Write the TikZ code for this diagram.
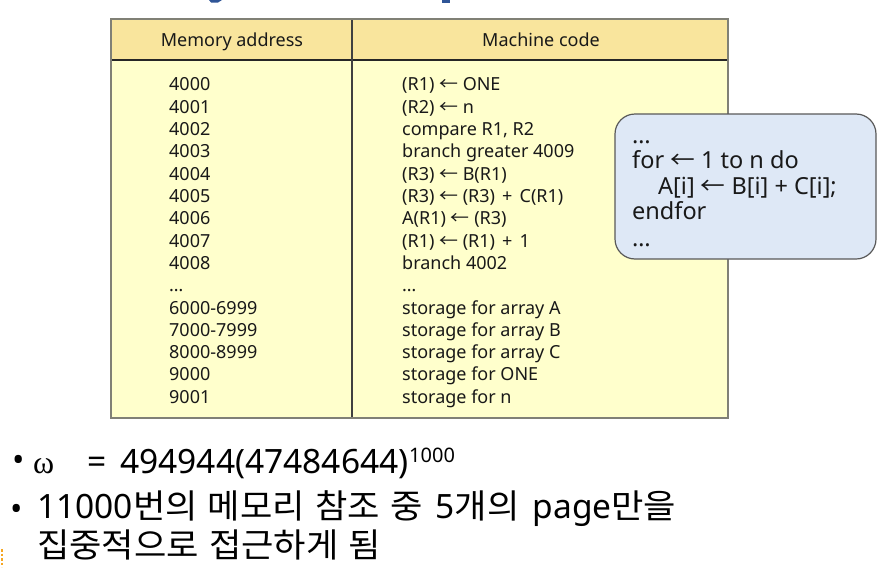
\documentclass[tikz,border=0pt]{standalone}
\usepackage{fontspec}
\setmainfont{Noto Sans}
\newfontfamily\krfont[FakeStretch=1.05,WordSpace=1.3]{Noto Sans CJK KR}
\newfontfamily\bigfont[WordSpace=1.5]{Noto Sans}
\newfontfamily\omgfont{Liberation Serif}
\newcommand{\lar}{{\krfont ←}}
\definecolor{hdrc}{RGB}{249,229,157}
\definecolor{bodyc}{RGB}{255,255,204}
\definecolor{boxc}{RGB}{222,232,246}
\definecolor{ttlc}{RGB}{47,85,151}
\definecolor{ornc}{RGB}{245,166,35}
\definecolor{framec}{RGB}{128,128,118}
\begin{document}
\begin{tikzpicture}[x=1pt,y=-1pt,
  celltext/.style={anchor=base west, inner sep=0pt, font=\fontsize{18}{22}\selectfont, text=black!90},
  hdrtext/.style={anchor=base, inner sep=0pt, font=\fontsize{18}{22}\selectfont, text=black!90},
  boxtext/.style={anchor=base west, inner sep=0pt, font=\fontsize{23.5}{26}\selectfont, text=black!90},
  bigtext/.style={anchor=base west, inner sep=0pt, font=\bigfont\fontsize{33.5}{38}\selectfont, text=black},
  bullettext/.style={anchor=base west, inner sep=0pt, font=\fontsize{33}{36}\selectfont, text=black},
  codebox/.style={draw=black!65, fill=boxc, line width=1.2pt, rounded corners=20pt, inner sep=0pt},
]
\useasboundingbox (0,0) rectangle (883,570);
% cropped title remnants
\fill[ttlc] (209,0) -- (222,0) -- (218,2.5) -- (211,2.5) -- cycle;
\fill[ttlc] (442,0) rectangle (450,3);
% slide decoration remnant
\draw[ornc, line width=1.5pt, dash pattern=on 2.5pt off 2pt] (2,549) -- (2,567);
% table
\fill[hdrc] (111,19) rectangle (728,60);
\fill[bodyc] (111,60) rectangle (728,418);
\draw[black!85, line width=1.2pt] (111,60) -- (728,60);
\draw[black!75, line width=1.2pt] (352,19) -- (352,418);
\draw[framec, line width=1.6pt] (111,19) rectangle (728,418);
\node[hdrtext] (h1) at (232,46.5) {Memory address};
\node[hdrtext] (h2) at (541,46.5) {Machine code};
\foreach \a/\c [count=\i from 0] in {
  4000/{(R1) \lar\ ONE},
  4001/{(R2) \lar\ n},
  4002/{compare R1, R2},
  4003/{branch greater 4009},
  4004/{(R3) \lar\ B(R1)},
  4005/{(R3) \lar\ (R3)\hspace{2.5pt} + \hspace{2.5pt}C(R1)},
  4006/{A(R1) \lar\ (R3)},
  4007/{(R1) \lar\ (R1)\hspace{2.5pt} + \hspace{2.5pt}1},
  4008/{branch 4002},
  {…}/{…},
  6000-6999/{storage for array A},
  7000-7999/{storage for array B},
  8000-8999/{storage for array C},
  9000/{storage for ONE},
  9001/{storage for n}} {
  \node[celltext] (addr\i) at (169,{90.7+22.33*\i}) {\a};
  \node[celltext] (code\i) at (402,{90.7+22.33*\i}) {\c};
}
% pseudo code box
\node[codebox, minimum width=261pt, minimum height=145pt] (cbox) at (745.5,186.5) {};
\node[boxtext] (p1) at (632,143.5) {…};
\node[boxtext] (p2) at (632,168.5) {for \lar\ 1 to n do};
\node[boxtext] (p3) at (658,194) {A[i] \lar\ B[i] + C[i];};
\node[boxtext] (p4) at (632,219.5) {endfor};
\node[boxtext] (p5) at (632,246) {…};
% bullets
\node[bullettext] (b1) at (12.5,471) {•};
\node[bigtext, font=\omgfont\fontsize{32}{38}\selectfont] (om) at (33,473) {ω};
\node[bigtext] (eq) at (87,473) {=};
\node[bigtext] (num) at (120,473) {494944(47484644)};
\node[anchor=base west, inner sep=0pt, font=\fontsize{20}{24}\selectfont] (sup) at (409,462) {1000};
\node[bullettext] (b2) at (10.5,520) {•};
\node[bigtext] (l2) at (37,518) {11000{\krfont 번의 메모리 참조 중} 5{\krfont 개의} page{\krfont 만을}};
\node[bigtext] (l3) at (37,557) {{\krfont 집중적으로 접근하게 됨}};
\end{tikzpicture}
\end{document}
